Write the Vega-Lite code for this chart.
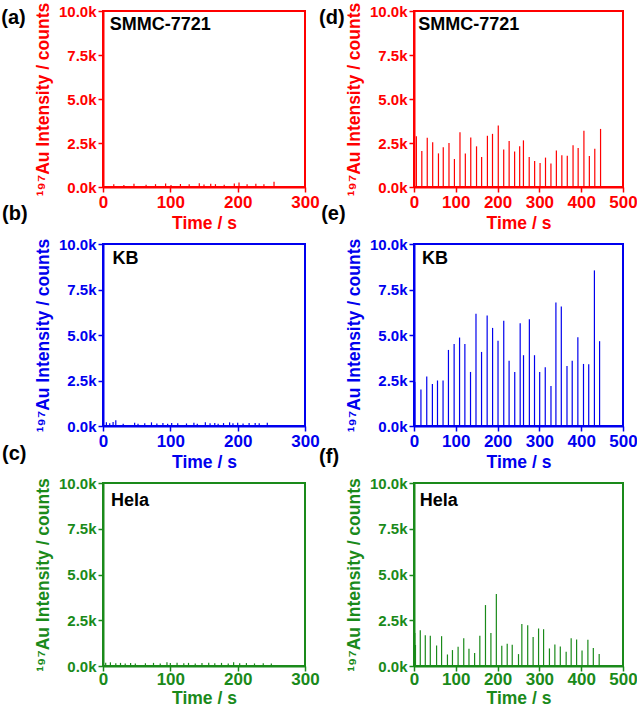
{
  "$schema": "https://vega.github.io/schema/vega-lite/v6.json",
  "autosize": {"type": "pad"},
  "padding": {"left": 0, "top": 1, "right": 0, "bottom": 0},
  "background": "white",
  "bounds": "flush",
  "columns": 2,
  "spacing": {"row": 57, "column": 109},
  "datasets": {
    "spikes": [
      {"p": "a", "t": 16, "h": 150}, {"p": "a", "t": 31, "h": 120}, {"p": "a", "t": 46, "h": 180}, {"p": "a", "t": 64, "h": 130}, {"p": "a", "t": 78, "h": 160}, {"p": "a", "t": 93, "h": 200}, {"p": "a", "t": 101, "h": 120}, {"p": "a", "t": 115, "h": 170}, {"p": "a", "t": 128, "h": 150}, {"p": "a", "t": 143, "h": 220}, {"p": "a", "t": 150, "h": 140}, {"p": "a", "t": 160, "h": 180}, {"p": "a", "t": 167, "h": 160}, {"p": "a", "t": 180, "h": 130}, {"p": "a", "t": 195, "h": 200}, {"p": "a", "t": 202, "h": 260}, {"p": "a", "t": 214, "h": 150}, {"p": "a", "t": 227, "h": 180}, {"p": "a", "t": 239, "h": 160}, {"p": "a", "t": 254, "h": 300},
      {"p": "b", "t": 5, "h": 200}, {"p": "b", "t": 10, "h": 150}, {"p": "b", "t": 15, "h": 220}, {"p": "b", "t": 19, "h": 320}, {"p": "b", "t": 30, "h": 130}, {"p": "b", "t": 47, "h": 180}, {"p": "b", "t": 52, "h": 120}, {"p": "b", "t": 62, "h": 150}, {"p": "b", "t": 72, "h": 200}, {"p": "b", "t": 80, "h": 140}, {"p": "b", "t": 89, "h": 160}, {"p": "b", "t": 96, "h": 130}, {"p": "b", "t": 102, "h": 170}, {"p": "b", "t": 111, "h": 150}, {"p": "b", "t": 124, "h": 140}, {"p": "b", "t": 135, "h": 180}, {"p": "b", "t": 140, "h": 130}, {"p": "b", "t": 152, "h": 200}, {"p": "b", "t": 159, "h": 150}, {"p": "b", "t": 166, "h": 170}, {"p": "b", "t": 171, "h": 130}, {"p": "b", "t": 179, "h": 160}, {"p": "b", "t": 188, "h": 200}, {"p": "b", "t": 193, "h": 150}, {"p": "b", "t": 200, "h": 180}, {"p": "b", "t": 208, "h": 140}, {"p": "b", "t": 217, "h": 170}, {"p": "b", "t": 226, "h": 160}, {"p": "b", "t": 232, "h": 150}, {"p": "b", "t": 244, "h": 180},
      {"p": "c", "t": 4, "h": 180}, {"p": "c", "t": 11, "h": 200}, {"p": "c", "t": 19, "h": 150}, {"p": "c", "t": 26, "h": 170}, {"p": "c", "t": 33, "h": 140}, {"p": "c", "t": 41, "h": 160}, {"p": "c", "t": 48, "h": 130}, {"p": "c", "t": 63, "h": 150}, {"p": "c", "t": 75, "h": 170}, {"p": "c", "t": 85, "h": 140}, {"p": "c", "t": 95, "h": 200}, {"p": "c", "t": 100, "h": 160}, {"p": "c", "t": 110, "h": 180}, {"p": "c", "t": 120, "h": 150}, {"p": "c", "t": 127, "h": 170}, {"p": "c", "t": 137, "h": 140}, {"p": "c", "t": 147, "h": 160}, {"p": "c", "t": 157, "h": 180}, {"p": "c", "t": 166, "h": 150}, {"p": "c", "t": 176, "h": 170}, {"p": "c", "t": 186, "h": 140}, {"p": "c", "t": 194, "h": 200}, {"p": "c", "t": 203, "h": 150}, {"p": "c", "t": 213, "h": 160}, {"p": "c", "t": 225, "h": 140}, {"p": "c", "t": 238, "h": 150}, {"p": "c", "t": 250, "h": 130},
      {"p": "d", "t": 5.7, "h": 2890}, {"p": "d", "t": 18.7, "h": 2040}, {"p": "d", "t": 31.7, "h": 2800}, {"p": "d", "t": 44.7, "h": 2540}, {"p": "d", "t": 58.5, "h": 1910}, {"p": "d", "t": 70, "h": 2260}, {"p": "d", "t": 83.7, "h": 2500}, {"p": "d", "t": 96.7, "h": 1590}, {"p": "d", "t": 110, "h": 3110}, {"p": "d", "t": 122.8, "h": 1910}, {"p": "d", "t": 135.8, "h": 2810}, {"p": "d", "t": 149.6, "h": 2310}, {"p": "d", "t": 161.8, "h": 1700}, {"p": "d", "t": 175.6, "h": 2910}, {"p": "d", "t": 187.8, "h": 3020}, {"p": "d", "t": 201.6, "h": 3500}, {"p": "d", "t": 214.6, "h": 2130}, {"p": "d", "t": 227.6, "h": 2610}, {"p": "d", "t": 240.7, "h": 2020}, {"p": "d", "t": 252.8, "h": 2310}, {"p": "d", "t": 261.8, "h": 2650}, {"p": "d", "t": 275.6, "h": 1700}, {"p": "d", "t": 288.6, "h": 1480}, {"p": "d", "t": 301.6, "h": 1370}, {"p": "d", "t": 314.6, "h": 1670}, {"p": "d", "t": 327.6, "h": 1330}, {"p": "d", "t": 340.6, "h": 2070}, {"p": "d", "t": 353.7, "h": 1810}, {"p": "d", "t": 366.7, "h": 1780}, {"p": "d", "t": 380.5, "h": 2370}, {"p": "d", "t": 392.7, "h": 2220}, {"p": "d", "t": 406.5, "h": 3200}, {"p": "d", "t": 419.5, "h": 1760}, {"p": "d", "t": 432.5, "h": 2170}, {"p": "d", "t": 446.3, "h": 3300},
      {"p": "e", "t": 0.8, "h": 1700}, {"p": "e", "t": 2, "h": 2420}, {"p": "e", "t": 16.6, "h": 2000}, {"p": "e", "t": 30.5, "h": 2720}, {"p": "e", "t": 44, "h": 2310}, {"p": "e", "t": 56.2, "h": 2500}, {"p": "e", "t": 69.5, "h": 2500}, {"p": "e", "t": 82.4, "h": 4180}, {"p": "e", "t": 96, "h": 4500}, {"p": "e", "t": 109, "h": 4860}, {"p": "e", "t": 121.7, "h": 4500}, {"p": "e", "t": 135.2, "h": 2970}, {"p": "e", "t": 148.3, "h": 6170}, {"p": "e", "t": 161.6, "h": 4070}, {"p": "e", "t": 175, "h": 6070}, {"p": "e", "t": 188, "h": 5390}, {"p": "e", "t": 201, "h": 4680}, {"p": "e", "t": 214.7, "h": 5780}, {"p": "e", "t": 227.5, "h": 3580}, {"p": "e", "t": 241, "h": 2970}, {"p": "e", "t": 254, "h": 5650}, {"p": "e", "t": 262, "h": 3890}, {"p": "e", "t": 276, "h": 5870}, {"p": "e", "t": 288.3, "h": 3890}, {"p": "e", "t": 300.7, "h": 2970}, {"p": "e", "t": 314, "h": 3230}, {"p": "e", "t": 327.7, "h": 2200}, {"p": "e", "t": 339.5, "h": 6790}, {"p": "e", "t": 352.4, "h": 6570}, {"p": "e", "t": 366, "h": 3300}, {"p": "e", "t": 378.5, "h": 3580}, {"p": "e", "t": 392, "h": 4880}, {"p": "e", "t": 405.5, "h": 3410}, {"p": "e", "t": 418, "h": 3390}, {"p": "e", "t": 431.6, "h": 8550}, {"p": "e", "t": 444, "h": 4660},
      {"p": "f", "t": 2, "h": 1810}, {"p": "f", "t": 3.5, "h": 1150}, {"p": "f", "t": 15, "h": 1960}, {"p": "f", "t": 27, "h": 1680}, {"p": "f", "t": 39, "h": 1650}, {"p": "f", "t": 54, "h": 1120}, {"p": "f", "t": 66, "h": 1630}, {"p": "f", "t": 80, "h": 630}, {"p": "f", "t": 92, "h": 870}, {"p": "f", "t": 105.5, "h": 1050}, {"p": "f", "t": 119, "h": 1520}, {"p": "f", "t": 131.5, "h": 940}, {"p": "f", "t": 145, "h": 710}, {"p": "f", "t": 157.5, "h": 1650}, {"p": "f", "t": 171, "h": 3330}, {"p": "f", "t": 184, "h": 1810}, {"p": "f", "t": 197, "h": 3930}, {"p": "f", "t": 210, "h": 1100}, {"p": "f", "t": 223, "h": 1210}, {"p": "f", "t": 235, "h": 1160}, {"p": "f", "t": 250, "h": 650}, {"p": "f", "t": 258, "h": 2300}, {"p": "f", "t": 272, "h": 2230}, {"p": "f", "t": 285, "h": 1580}, {"p": "f", "t": 298, "h": 2050}, {"p": "f", "t": 310, "h": 2010}, {"p": "f", "t": 324, "h": 960}, {"p": "f", "t": 337, "h": 1180}, {"p": "f", "t": 350, "h": 1070}, {"p": "f", "t": 364, "h": 780}, {"p": "f", "t": 376, "h": 1520}, {"p": "f", "t": 389, "h": 1450}, {"p": "f", "t": 402, "h": 850}, {"p": "f", "t": 416, "h": 1430}, {"p": "f", "t": 429, "h": 980}, {"p": "f", "t": 443, "h": 650}
    ],
    "labels": [
      {"p": "a", "label": "SMMC-7721", "letter": "(a)"}, {"p": "b", "label": "KB", "letter": "(b)"}, {"p": "c", "label": "Hela", "letter": "(c)"},
      {"p": "d", "label": "SMMC-7721", "letter": "(d)"}, {"p": "e", "label": "KB", "letter": "(e)"}, {"p": "f", "label": "Hela", "letter": "(f)"}
    ]
  },
  "concat": [
    {
      "width": 202, "height": 176,
      "view": {"stroke": "#ff0000"},
      "layer": [
        {"data": {"name": "spikes"}, "transform": [{"filter": "datum.p == 'a'"}],
         "mark": {"type": "rule", "color": "#ff0000", "strokeWidth": 1.2},
         "encoding": {
           "x": {"field": "t", "type": "quantitative", "scale": {"domain": [0, 300], "nice": false},
                 "axis": {"title": "Time / s", "titlePadding": 4, "values": [0, 50, 100, 150, 200, 250, 300], "labelExpr": "datum.value % 100 === 0 ? datum.label : ''", "tickSize": {"condition": {"test": "datum.value % 100 === 0", "value": 5}, "value": 3}, "domainColor": "#ff0000", "tickColor": "#ff0000", "labelColor": "#ff0000", "titleColor": "#ff0000"}},
           "y": {"field": "h", "type": "quantitative", "scale": {"domain": [0, 10000], "nice": false},
                 "axis": {"title": "¹⁹⁷Au Intensity / counts", "values": [0, 1250, 2500, 3750, 5000, 6250, 7500, 8750, 10000], "labelExpr": "datum.value % 2500 === 0 ? format(datum.value / 1000, '.1f') + 'k' : ''", "tickSize": {"condition": {"test": "datum.value % 2500 === 0", "value": 5}, "value": 3}, "domainColor": "#ff0000", "tickColor": "#ff0000", "labelColor": "#ff0000", "titleColor": "#ff0000"}},
           "y2": {"datum": 0}
         }},
        {"data": {"name": "labels"}, "transform": [{"filter": "datum.p == 'a'"}],
         "mark": {"type": "text", "align": "left", "baseline": "middle", "fontSize": 18, "fontWeight": "bold", "color": "black"},
         "encoding": {"x": {"datum": 10, "type": "quantitative"}, "y": {"datum": 9200, "type": "quantitative"}, "text": {"field": "label"}}},
        {"data": {"name": "labels"}, "transform": [{"filter": "datum.p == 'a'"}],
         "mark": {"type": "text", "align": "left", "baseline": "alphabetic", "fontSize": 20, "fontWeight": "bold", "color": "black", "dy": 13},
         "encoding": {"x": {"datum": -151, "type": "quantitative"}, "y": {"datum": 10000, "type": "quantitative"}, "text": {"field": "letter"}}}
      ]
    },
    {
      "width": 209, "height": 176,
      "view": {"stroke": "#ff0000"},
      "layer": [
        {"data": {"name": "spikes"}, "transform": [{"filter": "datum.p == 'd'"}],
         "mark": {"type": "rule", "color": "#ff0000", "strokeWidth": 1.2},
         "encoding": {
           "x": {"field": "t", "type": "quantitative", "scale": {"domain": [0, 500], "nice": false},
                 "axis": {"title": "Time / s", "titlePadding": 4, "values": [0, 50, 100, 150, 200, 250, 300, 350, 400, 450, 500], "labelExpr": "datum.value % 100 === 0 ? datum.label : ''", "tickSize": {"condition": {"test": "datum.value % 100 === 0", "value": 5}, "value": 3}, "domainColor": "#ff0000", "tickColor": "#ff0000", "labelColor": "#ff0000", "titleColor": "#ff0000"}},
           "y": {"field": "h", "type": "quantitative", "scale": {"domain": [0, 10000], "nice": false},
                 "axis": {"title": "¹⁹⁷Au Intensity / counts", "values": [0, 1250, 2500, 3750, 5000, 6250, 7500, 8750, 10000], "labelExpr": "datum.value % 2500 === 0 ? format(datum.value / 1000, '.1f') + 'k' : ''", "tickSize": {"condition": {"test": "datum.value % 2500 === 0", "value": 5}, "value": 3}, "domainColor": "#ff0000", "tickColor": "#ff0000", "labelColor": "#ff0000", "titleColor": "#ff0000"}},
           "y2": {"datum": 0}
         }},
        {"data": {"name": "labels"}, "transform": [{"filter": "datum.p == 'd'"}],
         "mark": {"type": "text", "align": "left", "baseline": "middle", "fontSize": 18, "fontWeight": "bold", "color": "black"},
         "encoding": {"x": {"datum": 10, "type": "quantitative"}, "y": {"datum": 9200, "type": "quantitative"}, "text": {"field": "label"}}},
        {"data": {"name": "labels"}, "transform": [{"filter": "datum.p == 'd'"}],
         "mark": {"type": "text", "align": "left", "baseline": "alphabetic", "fontSize": 20, "fontWeight": "bold", "color": "black", "dy": 13},
         "encoding": {"x": {"datum": -227, "type": "quantitative"}, "y": {"datum": 10000, "type": "quantitative"}, "text": {"field": "letter"}}}
      ]
    },
    {
      "width": 202, "height": 182,
      "view": {"stroke": "#0000ee"},
      "layer": [
        {"data": {"name": "spikes"}, "transform": [{"filter": "datum.p == 'b'"}],
         "mark": {"type": "rule", "color": "#0000ee", "strokeWidth": 1.2},
         "encoding": {
           "x": {"field": "t", "type": "quantitative", "scale": {"domain": [0, 300], "nice": false},
                 "axis": {"title": "Time / s", "titlePadding": 4, "values": [0, 50, 100, 150, 200, 250, 300], "labelExpr": "datum.value % 100 === 0 ? datum.label : ''", "tickSize": {"condition": {"test": "datum.value % 100 === 0", "value": 5}, "value": 3}, "domainColor": "#0000ee", "tickColor": "#0000ee", "labelColor": "#0000ee", "titleColor": "#0000ee"}},
           "y": {"field": "h", "type": "quantitative", "scale": {"domain": [0, 10000], "nice": false},
                 "axis": {"title": "¹⁹⁷Au Intensity / counts", "values": [0, 1250, 2500, 3750, 5000, 6250, 7500, 8750, 10000], "labelExpr": "datum.value % 2500 === 0 ? format(datum.value / 1000, '.1f') + 'k' : ''", "tickSize": {"condition": {"test": "datum.value % 2500 === 0", "value": 5}, "value": 3}, "domainColor": "#0000ee", "tickColor": "#0000ee", "labelColor": "#0000ee", "titleColor": "#0000ee"}},
           "y2": {"datum": 0}
         }},
        {"data": {"name": "labels"}, "transform": [{"filter": "datum.p == 'b'"}],
         "mark": {"type": "text", "align": "left", "baseline": "middle", "fontSize": 18, "fontWeight": "bold", "color": "black"},
         "encoding": {"x": {"datum": 14, "type": "quantitative"}, "y": {"datum": 9200, "type": "quantitative"}, "text": {"field": "label"}}},
        {"data": {"name": "labels"}, "transform": [{"filter": "datum.p == 'b'"}],
         "mark": {"type": "text", "align": "left", "baseline": "alphabetic", "fontSize": 20, "fontWeight": "bold", "color": "black", "dy": -24},
         "encoding": {"x": {"datum": -150, "type": "quantitative"}, "y": {"datum": 10000, "type": "quantitative"}, "text": {"field": "letter"}}}
      ]
    },
    {
      "width": 209, "height": 182,
      "view": {"stroke": "#0000ee"},
      "layer": [
        {"data": {"name": "spikes"}, "transform": [{"filter": "datum.p == 'e'"}],
         "mark": {"type": "rule", "color": "#0000ee", "strokeWidth": 1.2},
         "encoding": {
           "x": {"field": "t", "type": "quantitative", "scale": {"domain": [0, 500], "nice": false},
                 "axis": {"title": "Time / s", "titlePadding": 4, "values": [0, 50, 100, 150, 200, 250, 300, 350, 400, 450, 500], "labelExpr": "datum.value % 100 === 0 ? datum.label : ''", "tickSize": {"condition": {"test": "datum.value % 100 === 0", "value": 5}, "value": 3}, "domainColor": "#0000ee", "tickColor": "#0000ee", "labelColor": "#0000ee", "titleColor": "#0000ee"}},
           "y": {"field": "h", "type": "quantitative", "scale": {"domain": [0, 10000], "nice": false},
                 "axis": {"title": "¹⁹⁷Au Intensity / counts", "values": [0, 1250, 2500, 3750, 5000, 6250, 7500, 8750, 10000], "labelExpr": "datum.value % 2500 === 0 ? format(datum.value / 1000, '.1f') + 'k' : ''", "tickSize": {"condition": {"test": "datum.value % 2500 === 0", "value": 5}, "value": 3}, "domainColor": "#0000ee", "tickColor": "#0000ee", "labelColor": "#0000ee", "titleColor": "#0000ee"}},
           "y2": {"datum": 0}
         }},
        {"data": {"name": "labels"}, "transform": [{"filter": "datum.p == 'e'"}],
         "mark": {"type": "text", "align": "left", "baseline": "middle", "fontSize": 18, "fontWeight": "bold", "color": "black"},
         "encoding": {"x": {"datum": 19, "type": "quantitative"}, "y": {"datum": 9200, "type": "quantitative"}, "text": {"field": "label"}}},
        {"data": {"name": "labels"}, "transform": [{"filter": "datum.p == 'e'"}],
         "mark": {"type": "text", "align": "left", "baseline": "alphabetic", "fontSize": 20, "fontWeight": "bold", "color": "black", "dy": -24},
         "encoding": {"x": {"datum": -222, "type": "quantitative"}, "y": {"datum": 10000, "type": "quantitative"}, "text": {"field": "letter"}}}
      ]
    },
    {
      "width": 202, "height": 183,
      "view": {"stroke": "#1a8a1a"},
      "layer": [
        {"data": {"name": "spikes"}, "transform": [{"filter": "datum.p == 'c'"}],
         "mark": {"type": "rule", "color": "#1a8a1a", "strokeWidth": 1.2},
         "encoding": {
           "x": {"field": "t", "type": "quantitative", "scale": {"domain": [0, 300], "nice": false},
                 "axis": {"title": "Time / s", "labelPadding": 0, "titlePadding": 2, "values": [0, 50, 100, 150, 200, 250, 300], "labelExpr": "datum.value % 100 === 0 ? datum.label : ''", "tickSize": {"condition": {"test": "datum.value % 100 === 0", "value": 5}, "value": 3}, "domainColor": "#1a8a1a", "tickColor": "#1a8a1a", "labelColor": "#1a8a1a", "titleColor": "#1a8a1a"}},
           "y": {"field": "h", "type": "quantitative", "scale": {"domain": [0, 10000], "nice": false},
                 "axis": {"title": "¹⁹⁷Au Intensity / counts", "values": [0, 1250, 2500, 3750, 5000, 6250, 7500, 8750, 10000], "labelExpr": "datum.value % 2500 === 0 ? format(datum.value / 1000, '.1f') + 'k' : ''", "tickSize": {"condition": {"test": "datum.value % 2500 === 0", "value": 5}, "value": 3}, "domainColor": "#1a8a1a", "tickColor": "#1a8a1a", "labelColor": "#1a8a1a", "titleColor": "#1a8a1a"}},
           "y2": {"datum": 0}
         }},
        {"data": {"name": "labels"}, "transform": [{"filter": "datum.p == 'c'"}],
         "mark": {"type": "text", "align": "left", "baseline": "middle", "fontSize": 18, "fontWeight": "bold", "color": "black"},
         "encoding": {"x": {"datum": 12, "type": "quantitative"}, "y": {"datum": 9000, "type": "quantitative"}, "text": {"field": "label"}}},
        {"data": {"name": "labels"}, "transform": [{"filter": "datum.p == 'c'"}],
         "mark": {"type": "text", "align": "left", "baseline": "alphabetic", "fontSize": 20, "fontWeight": "bold", "color": "black", "dy": -23},
         "encoding": {"x": {"datum": -150, "type": "quantitative"}, "y": {"datum": 10000, "type": "quantitative"}, "text": {"field": "letter"}}}
      ]
    },
    {
      "width": 209, "height": 183,
      "view": {"stroke": "#1a8a1a"},
      "layer": [
        {"data": {"name": "spikes"}, "transform": [{"filter": "datum.p == 'f'"}],
         "mark": {"type": "rule", "color": "#1a8a1a", "strokeWidth": 1.2},
         "encoding": {
           "x": {"field": "t", "type": "quantitative", "scale": {"domain": [0, 500], "nice": false},
                 "axis": {"title": "Time / s", "labelPadding": 0, "titlePadding": 2, "values": [0, 50, 100, 150, 200, 250, 300, 350, 400, 450, 500], "labelExpr": "datum.value % 100 === 0 ? datum.label : ''", "tickSize": {"condition": {"test": "datum.value % 100 === 0", "value": 5}, "value": 3}, "domainColor": "#1a8a1a", "tickColor": "#1a8a1a", "labelColor": "#1a8a1a", "titleColor": "#1a8a1a"}},
           "y": {"field": "h", "type": "quantitative", "scale": {"domain": [0, 10000], "nice": false},
                 "axis": {"title": "¹⁹⁷Au Intensity / counts", "values": [0, 1250, 2500, 3750, 5000, 6250, 7500, 8750, 10000], "labelExpr": "datum.value % 2500 === 0 ? format(datum.value / 1000, '.1f') + 'k' : ''", "tickSize": {"condition": {"test": "datum.value % 2500 === 0", "value": 5}, "value": 3}, "domainColor": "#1a8a1a", "tickColor": "#1a8a1a", "labelColor": "#1a8a1a", "titleColor": "#1a8a1a"}},
           "y2": {"datum": 0}
         }},
        {"data": {"name": "labels"}, "transform": [{"filter": "datum.p == 'f'"}],
         "mark": {"type": "text", "align": "left", "baseline": "middle", "fontSize": 18, "fontWeight": "bold", "color": "black"},
         "encoding": {"x": {"datum": 14, "type": "quantitative"}, "y": {"datum": 9000, "type": "quantitative"}, "text": {"field": "label"}}},
        {"data": {"name": "labels"}, "transform": [{"filter": "datum.p == 'f'"}],
         "mark": {"type": "text", "align": "left", "baseline": "alphabetic", "fontSize": 20, "fontWeight": "bold", "color": "black", "dy": -20},
         "encoding": {"x": {"datum": -227, "type": "quantitative"}, "y": {"datum": 10000, "type": "quantitative"}, "text": {"field": "letter"}}}
      ]
    }
  ],
  "config": {
    "font": "Liberation Sans",
    "view": {"strokeWidth": 2},
    "axis": {"grid": false, "labelFontWeight": "bold", "titleFontWeight": "bold", "labelFontSize": 15, "titleFontSize": 17.5, "domainWidth": 2, "tickWidth": 1.5, "labelPadding": 2, "titlePadding": 6, "labelOverlap": false, "labelFlush": false, "labelBound": false},
    "axisX": {"labelFontSize": 17, "titlePadding": 8}
  }
}
